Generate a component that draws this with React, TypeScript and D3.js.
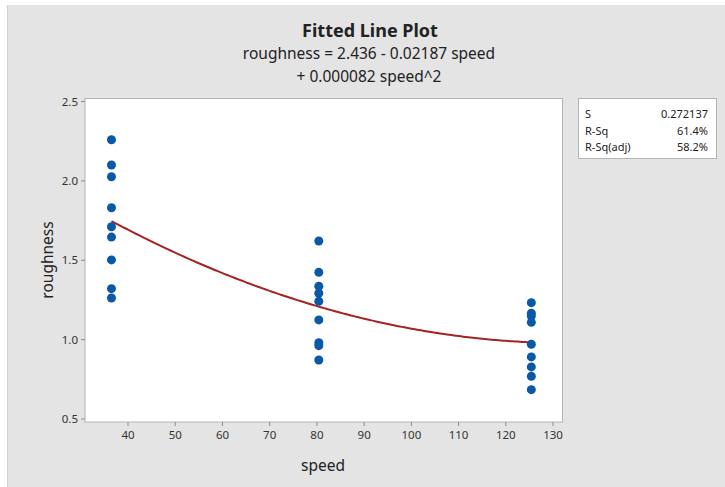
import React from "react";
import * as d3 from "d3";

// Observations by speed setting
const speeds = [36.5, 80.4, 125.4];
const roughnessAt36 = [2.259, 2.1, 2.026, 1.831, 1.711, 1.646, 1.502, 1.321, 1.262];
const roughnessAt80 = [1.621, 1.424, 1.336, 1.292, 1.241, 1.124, 0.981, 0.962, 0.872];
const roughnessAt125 = [1.233, 1.166, 1.149, 1.109, 0.971, 0.891, 0.828, 0.769, 0.685];

// Quadratic fit coefficients
const b0 = 2.436;
const b1 = -0.02187;
const b2 = 0.000082;

const xTicks = [40, 50, 60, 70, 80, 90, 100, 110, 120, 130];
const yTicks = [0.5, 1.0, 1.5, 2.0, 2.5];

const statLabels = ["S", "R-Sq", "R-Sq(adj)"];
const statValues = ["0.272137", "61.4%", "58.2%"];

const W = 725;
const H = 487;
const FONT = "'Noto Sans', 'Open Sans', sans-serif";

export default function App() {
  const plot = { left: 85, right: 562.5, top: 98.5, bottom: 422 };
  const x = d3.scaleLinear().domain([31, 132]).range([85.5, 562.5]);
  const y = d3.scaleLinear().domain([0.5, 2.5]).range([419, 101.5]);

  const groups = [roughnessAt36, roughnessAt80, roughnessAt125];
  const points = groups.flatMap((vals, i) => vals.map((v) => ({ s: speeds[i], r: v })));

  const fitX = d3.range(speeds[0], speeds[2] + 0.001, 0.5);
  const fit = (s: number) => b0 + b1 * s + b2 * s * s;
  const line = d3
    .line<number>()
    .x((s) => x(s))
    .y((s) => y(fit(s)))
    .curve(d3.curveLinear);

  const tickColor = "#8c8c8c";
  const textColor = "#333";

  return (
    <svg
      width={W}
      height={H}
      style={{ position: "absolute", left: 0, top: 0, fontFamily: FONT }}
    >
      <rect x={0} y={0} width={W} height={H} fill="#ffffff" />
      <rect x={7} y={5} width={W - 7} height={H - 5} fill="#e4e4e4" />
      <line x1={7.5} y1={5} x2={7.5} y2={H} stroke="#d0d0d0" />

      {/* Titles */}
      <text x={370} y={37} textAnchor="middle" fontSize={18} fontWeight="bold" fill="#222">
        Fitted Line Plot
      </text>
      <text x={369} y={59} textAnchor="middle" fontSize={15.5} fill="#222">
        roughness = 2.436 - 0.02187 speed
      </text>
      <text x={369} y={82} textAnchor="middle" fontSize={15.5} fill="#222">
        + 0.000082 speed^2
      </text>

      {/* Plot area */}
      <rect
        x={plot.left}
        y={plot.top}
        width={plot.right - plot.left}
        height={plot.bottom - plot.top}
        fill="#ffffff"
        stroke="#b4b4b4"
      />

      {/* X axis */}
      {xTicks.map((t) => (
        <g key={`x${t}`}>
          <line x1={x(t)} x2={x(t)} y1={plot.bottom} y2={plot.bottom + 4} stroke={tickColor} />
          <text x={x(t)} y={plot.bottom + 17} textAnchor="middle" fontSize={11.5} fill={textColor}>
            {t}
          </text>
        </g>
      ))}
      <text x={323} y={471} textAnchor="middle" fontSize={15.5} fill="#222">
        speed
      </text>

      {/* Y axis */}
      {yTicks.map((t) => (
        <g key={`y${t}`}>
          <line x1={plot.left - 4} x2={plot.left} y1={y(t)} y2={y(t)} stroke={tickColor} />
          <text x={plot.left - 7} y={y(t) + 4} textAnchor="end" fontSize={11.5} fill={textColor}>
            {t.toFixed(1)}
          </text>
        </g>
      ))}
      <text
        transform={`translate(47,260) rotate(-90)`}
        textAnchor="middle"
        dominantBaseline="central"
        fontSize={15.5}
        fill="#222"
      >
        roughness
      </text>

      {/* Fitted curve */}
      <path d={line(fitX) ?? ""} fill="none" stroke="#a32424" strokeWidth={2} />

      {/* Observations */}
      {points.map((p, i) => (
        <circle key={i} cx={x(p.s)} cy={y(p.r)} r={4.5} fill="#0a58a8" />
      ))}

      {/* Summary statistics */}
      <rect x={578.5} y={98.5} width={138} height={60} fill="#ffffff" stroke="#b4b4b4" />
      {statLabels.map((lab, i) => (
        <g key={lab}>
          <text x={585} y={118 + i * 16.5} fontSize={11} fill="#222">
            {lab}
          </text>
          <text x={708} y={118 + i * 16.5} textAnchor="end" fontSize={11} fill="#222">
            {statValues[i]}
          </text>
        </g>
      ))}
    </svg>
  );
}
